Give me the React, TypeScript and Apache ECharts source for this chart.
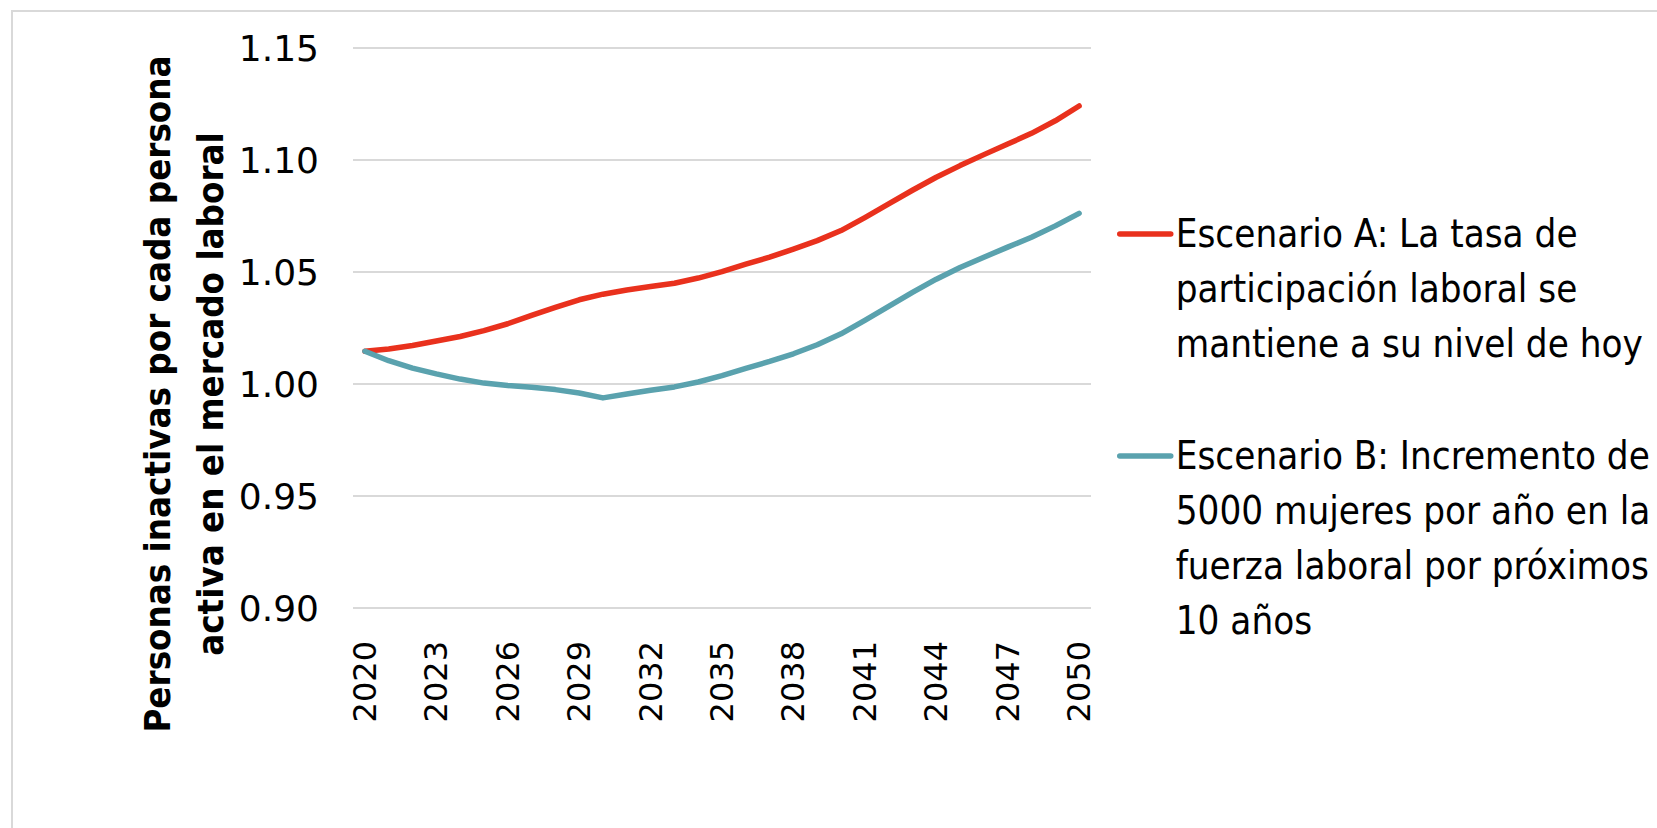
import React, { useEffect, useRef } from "react";
import * as echarts from "echarts";

const years = [
  "2020", "2021", "2022", "2023", "2024", "2025", "2026", "2027", "2028", "2029",
  "2030", "2031", "2032", "2033", "2034", "2035", "2036", "2037", "2038", "2039",
  "2040", "2041", "2042", "2043", "2044", "2045", "2046", "2047", "2048", "2049", "2050",
];

const escenarioA = [
  1.0146, 1.0156, 1.0172, 1.0192, 1.0212, 1.0238, 1.0269, 1.0306, 1.0342, 1.0376,
  1.0401, 1.042, 1.0435, 1.045, 1.0473, 1.0502, 1.0535, 1.0566, 1.0602, 1.064,
  1.0685, 1.0743, 1.0804, 1.0865, 1.0923, 1.0975, 1.1024, 1.1071, 1.1119, 1.1175, 1.1241,
];

const escenarioB = [
  1.0146, 1.0104, 1.0071, 1.0045, 1.0022, 1.0004, 0.9993, 0.9985, 0.9975, 0.996,
  0.9938, 0.9955, 0.9972, 0.9987, 1.0009, 1.0037, 1.007, 1.0101, 1.0135, 1.0175,
  1.0224, 1.0284, 1.0346, 1.0409, 1.0468, 1.052, 1.0566, 1.0611, 1.0655, 1.0706, 1.0762,
];

const nameA = "Escenario A: La tasa de\nparticipación laboral se\nmantiene a su nivel de hoy";
const nameB = "Escenario B: Incremento de\n5000 mujeres por año en la\nfuerza laboral por próximos\n10 años";
const yTitle = "Personas inactivas por cada persona\nactiva en el mercado laboral";

const yMin = 0.9;
const yMax = 1.15;
const yStep = 0.05;

const RED = "#E9311D";
const TEAL = "#5AA2AE";
const LEGEND_FONT = "'Liberation Sans Narrow', 'DejaVu Sans Condensed', sans-serif";
const LH = 55;

// prepend (n-1) blank lines so the legend line sits beside the first text line
const padTop = (name: string) => {
  const n = name.split("\n").length;
  return "\n".repeat(n - 1) + name;
};

export default function App() {
  const ref = useRef<HTMLDivElement>(null);
  useEffect(() => {
    if (!ref.current) return;
    const chart = echarts.init(ref.current, null, { renderer: "svg" });
    const legendBase = {
      left: 1117,
      padding: 0,
      orient: "vertical",
      itemWidth: 51,
      itemHeight: 5,
      itemGap: 0,
      formatter: padTop,
      textStyle: {
        fontFamily: LEGEND_FONT,
        fontSize: 38.2,
        color: "#000",
        lineHeight: LH,
      },
      lineStyle: { width: 5.5, cap: "round" },
    };
    chart.setOption({
      animation: false,
      backgroundColor: "#fff",
      grid: { left: 353, right: 566, top: 48, bottom: 220, containLabel: false },
      xAxis: {
        type: "category",
        data: years,
        boundaryGap: true,
        axisLine: { show: false },
        axisTick: { show: false },
        axisLabel: {
          interval: 2,
          rotate: 90,
          margin: 33,
          fontFamily: "'DejaVu Sans', sans-serif",
          fontSize: 32,
          color: "#000",
        },
      },
      yAxis: {
        type: "value",
        min: yMin,
        max: yMax,
        interval: yStep,
        axisLine: { show: false },
        axisTick: { show: false },
        splitLine: { lineStyle: { color: "#d9d9d9", width: 2 } },
        axisLabel: {
          margin: 34,
          fontFamily: "'DejaVu Sans', sans-serif",
          fontSize: 36,
          color: "#000",
          formatter: (v: number) => v.toFixed(2),
        },
      },
      legend: [
        { ...legendBase, data: [nameA], top: 234 - 2.5 * LH },
        { ...legendBase, data: [nameB], top: 456 - 3.5 * LH },
      ],
      graphic: [
        {
          type: "rect",
          shape: { x: 12, y: 11, width: 1800, height: 1000 },
          style: { fill: "none", stroke: "#d9d9d9", lineWidth: 2 },
          silent: true,
        },
        {
          type: "text",
          x: 183.5,
          y: 394,
          rotation: Math.PI / 2,
          style: {
            text: yTitle,
            font: "bold 36.3px 'Liberation Sans Narrow', 'DejaVu Sans Condensed', sans-serif",
            lineHeight: 53,
            fill: "#000",
            textAlign: "center",
            textVerticalAlign: "middle",
          },
        },
      ],
      series: [
        {
          name: nameA,
          type: "line",
          data: escenarioA,
          symbol: "none",
          smooth: false,
          lineStyle: { color: RED, width: 5.5, cap: "round", join: "round" },
          itemStyle: { color: RED },
        },
        {
          name: nameB,
          type: "line",
          data: escenarioB,
          symbol: "none",
          smooth: false,
          lineStyle: { color: TEAL, width: 5.5, cap: "round", join: "round" },
          itemStyle: { color: TEAL },
        },
      ],
    });
    return () => chart.dispose();
  }, []);
  return (
    <div
      ref={ref}
      style={{ position: "fixed", left: 0, top: 0, width: 1657, height: 828 }}
    />
  );
}
